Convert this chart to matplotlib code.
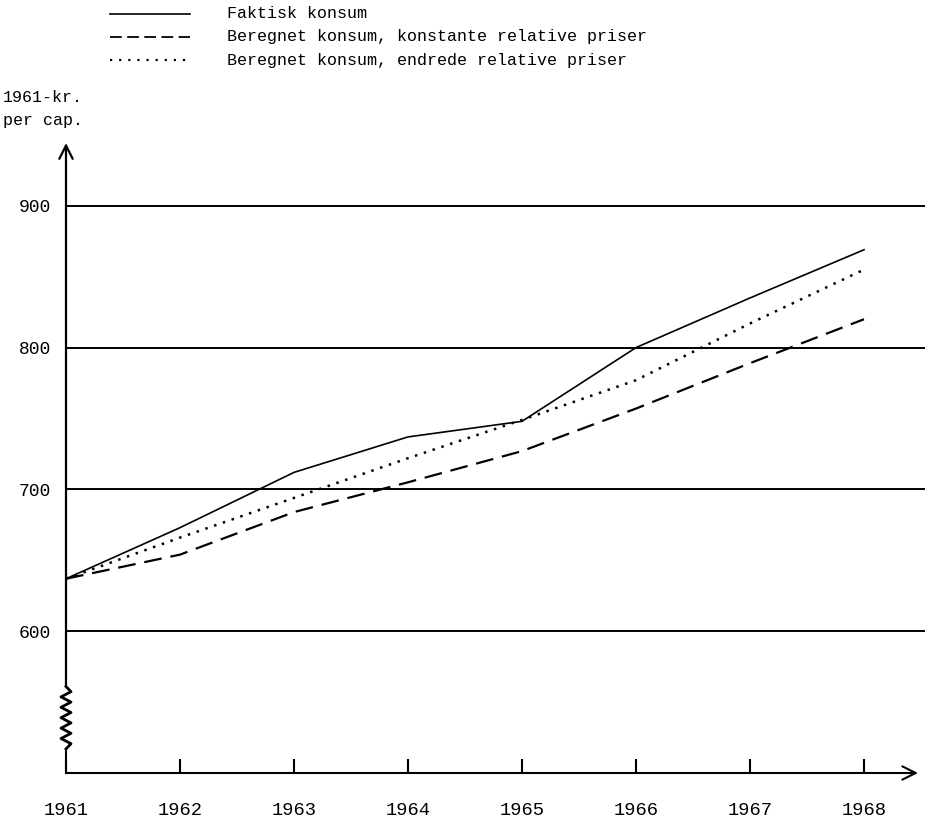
import matplotlib
matplotlib.use("Agg")
import matplotlib.pyplot as plt
from matplotlib.lines import Line2D

plt.rcParams['font.family'] = ['Liberation Mono', 'DejaVu Sans Mono']

# data (1961-kr. per capita)
years = [1961, 1962, 1963, 1964, 1965, 1966, 1967, 1968]
faktisk = [637, 673, 712, 737, 748, 800, 835, 869]
konstante = [637, 654, 684, 705, 727, 757, 789, 820]
endrede = [637, 666, 694, 722, 749, 777, 817, 855]

yticks = [600, 700, 800, 900]
labels = ["Faktisk konsum",
          "Beregnet konsum, konstante relative priser",
          "Beregnet konsum, endrede relative priser"]

PX_YEAR = 114.0   # pixels per year
PX_UNIT = 1.423   # pixels per krone

fig = plt.figure(figsize=(9.32, 8.21), dpi=100)
ax = fig.add_axes([66/932, 1 - 773/821, (925 - 66)/932, (773 - 143)/821])

x0, y0 = 1961, 500
ax.set_xlim(x0, x0 + (925 - 66)/PX_YEAR)
ax.set_ylim(y0, 900 + (206 - 143)/PX_UNIT)

for s in ax.spines.values():
    s.set_visible(False)

# horizontal grid lines
for v in yticks:
    ax.axhline(v, color='black', lw=1.4, zorder=1)

# data lines
ax.plot(years, faktisk, color='black', lw=1.2, zorder=3)
ax.plot(years, konstante, color='black', lw=1.6, dashes=(8, 4), zorder=3)
ax.plot(years, endrede, color='black', lw=1.8, dashes=(1, 2.7), zorder=3)

# y axis with break (zigzag) and arrow
zx = 5/PX_YEAR
zig_y = [517 + i*(561 - 517)/12 for i in range(13)]
zig_x = [x0 + (zx if i % 2 else -zx) for i in range(13)]
zig_x[0] = x0
zig_x[-1] = x0
ax.plot([x0, x0], [y0, 517], color='black', lw=1.5, clip_on=False)
ax.plot(zig_x, zig_y, color='black', lw=2.0, clip_on=False)
ax.annotate('', xy=(x0, ax.get_ylim()[1]), xytext=(x0, 561),
            arrowprops=dict(arrowstyle='->', lw=1.6, color='black',
                            mutation_scale=24, shrinkA=0, shrinkB=0),
            annotation_clip=False)
# x axis with arrow
ax.annotate('', xy=(x0 + (918 - 66)/PX_YEAR, y0), xytext=(x0, y0),
            arrowprops=dict(arrowstyle='->', lw=1.5, color='black',
                            mutation_scale=24, shrinkA=0, shrinkB=0),
            annotation_clip=False)

ax.set_xticks(years)
ax.set_xticklabels([str(y) for y in years])
ax.tick_params(axis='x', direction='in', length=10, width=1.5, pad=21,
               labelsize=13.5)
ax.set_yticks(yticks)
ax.set_yticklabels([str(v) for v in yticks])
ax.tick_params(axis='y', length=0, pad=11, labelsize=13)

# unit label
fig.text(3/932, 1 - 98/821, "1961-kr.", fontsize=12, va='center', ha='left')
fig.text(3/932, 1 - 121/821, "per cap.", fontsize=12, va='center', ha='left')

# legend drawn by hand
styles = [dict(lw=1.2), dict(lw=1.3, dashes=(6.5, 3)), dict(lw=1.6, dashes=(1, 3.1))]
rows = [14, 37, 60]
for lab, st, r in zip(labels, styles, rows):
    yy = 1 - r/821
    fig.add_artist(Line2D([110/932, 190/932], [yy, yy], color='black', **st))
    fig.text(227/932, yy, lab, fontsize=12, va='center', ha='left')

fig.savefig("out.png", dpi=100)
